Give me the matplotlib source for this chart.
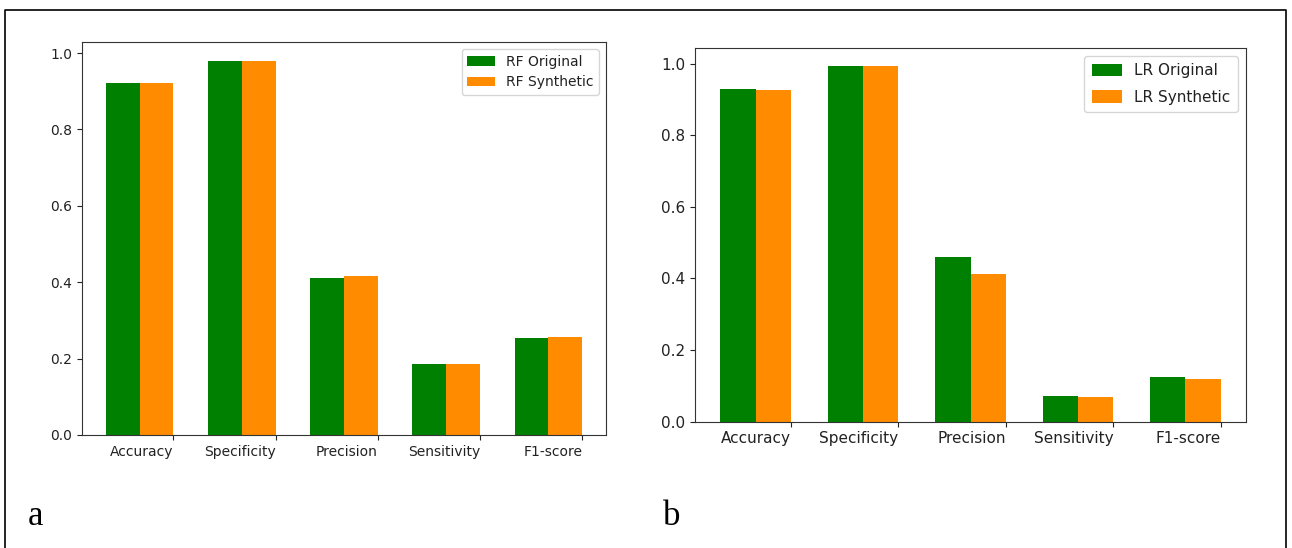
import numpy as np
import matplotlib
matplotlib.use("Agg")
import matplotlib.pyplot as plt
from matplotlib.lines import Line2D

# ---- data ----
metrics = ["Accuracy", "Specificity", "Precision", "Sensitivity", "F1-score"]
rf_original = [0.922, 0.980, 0.410, 0.185, 0.254]
rf_synthetic = [0.922, 0.980, 0.416, 0.187, 0.257]
lr_original = [0.930, 0.994, 0.461, 0.072, 0.125]
lr_synthetic = [0.926, 0.994, 0.413, 0.068, 0.118]

W, H = 1292, 548
fig = plt.figure(figsize=(W / 100, H / 100), dpi=100)
fig.patch.set_facecolor("white")


def px_axes(x0, y0, x1, y1):
    # pixel box (top-left origin) -> figure fraction axes
    return fig.add_axes([x0 / W, (H - y1) / H, (x1 - x0) / W, (y1 - y0) / H])


def bar_panel(ax, orig, synth, labels, fs, leg_kw):
    x = np.arange(len(metrics))
    w = 0.33
    ax.bar(x - w / 2, orig, w, color="green", label=labels[0])
    ax.bar(x + w / 2, synth, w, color="darkorange", label=labels[1])
    ax.set_xticks(x + w)
    ax.set_xticklabels(metrics, ha="right", fontsize=fs)
    ax.tick_params(axis="y", labelsize=fs, colors="#222222")
    ax.tick_params(axis="x", colors="#222222")
    for s in ax.spines.values():
        s.set_color("#333333")
    leg = ax.legend(fontsize=fs, loc="upper right", **leg_kw)
    for t in leg.get_texts():
        t.set_color("#222222")


ax1 = px_axes(82, 42, 606, 435)
bar_panel(ax1, rf_original, rf_synthetic, ["RF Original", "RF Synthetic"], 10, {})

ax2 = px_axes(695, 48, 1246, 421.5)
bar_panel(ax2, lr_original, lr_synthetic, ["LR Original", "LR Synthetic"], 11,
          {"labelspacing": 0.75, "handleheight": 0.9, "borderpad": 0.5})

# outer frame (bottom edge is cut off in the original)
fx0, fx1, fy = 5 / W, 1286 / W, (H - 10) / H
fig.add_artist(Line2D([fx0, fx0, fx1, fx1], [0, fy, fy, 0],
                      transform=fig.transFigure, color="black", lw=1.2))

# panel letters
fig.text(28 / W, (H - 525) / H, "a", family="Liberation Serif", fontsize=25, va="baseline")
fig.text(663 / W, (H - 525) / H, "b", family="Liberation Serif", fontsize=25, va="baseline")

fig.savefig("out.png", dpi=100)
